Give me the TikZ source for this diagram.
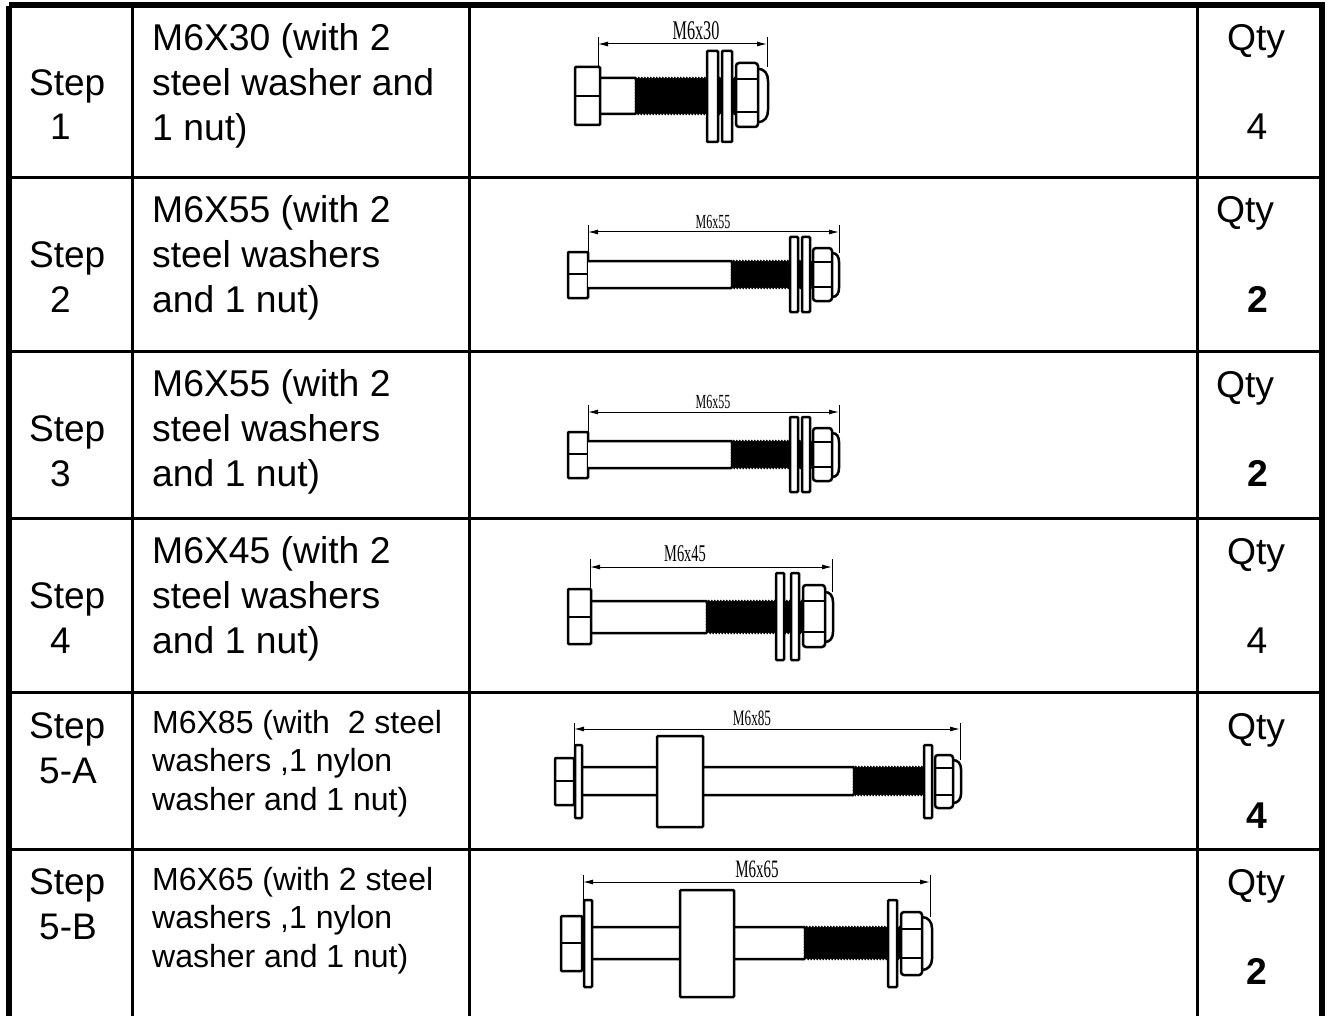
\documentclass[tikz,border=0pt]{standalone}
\usepackage{fontspec}
\setmainfont{Liberation Sans}
\newfontfamily\dimfont{Liberation Serif}
\usetikzlibrary{arrows.meta,decorations.pathmorphing}
\tikzset{
  grid/.style={black,line width=3pt},
  frame/.style={black,line width=6pt},
  stepcell/.style={anchor=base west,inner sep=0pt,align=left,font=\fontsize{37}{44.5}\selectfont},
  spec/.style={anchor=base west,inner sep=0pt,align=left,font=\fontsize{37.3}{45}\selectfont},
  specsmall/.style={anchor=base west,inner sep=0pt,align=left,font=\fontsize{32}{38.5}\selectfont},
  qty/.style={anchor=base,inner sep=0pt,font=\fontsize{37.3}{45}\selectfont},
  qtybold/.style={anchor=base,inner sep=0pt,font=\fontsize{37.3}{45}\selectfont\bfseries},
  part/.style={black,line width=2.5pt,rounded corners=1pt,fill=white},
  nut/.style={part,rounded corners=3pt},
  thread/.style={black,fill=black,line width=0.5pt,decorate,decoration={zigzag,segment length=3pt,amplitude=1pt}},
  dimline/.style={black,line width=1pt,{Latex[length=10pt,width=5pt]}-{Latex[length=10pt,width=5pt]}},
  extline/.style={black,line width=1pt},
  dimlabel/.style={transform shape,xscale=0.6,inner sep=0pt,font=\dimfont\fontsize{#1}{#1}\selectfont}
}
\begin{document}
\begin{tikzpicture}[x=1pt,y=-1pt]
    \useasboundingbox (0,0) rectangle (1329,1016);
    \fill[white] (0,0) rectangle (1329,1016);

    \draw[grid] (9,177.5) -- (1321,177.5);
    \draw[grid] (9,351) -- (1321,351);
    \draw[grid] (9,518) -- (1321,518);
    \draw[grid] (9,692) -- (1321,692);
    \draw[grid] (9,849) -- (1321,849);
    \draw[grid] (132.5,5) -- (132.5,1016);
    \draw[grid] (469.5,5) -- (469.5,1016);
    \draw[grid] (1197.5,5) -- (1197.5,1016);
    \draw[frame] (9,1016) -- (9,6);
    \draw[frame] (9,5) -- (1325,5);
    \draw[frame] (1321.5,2) -- (1321.5,1016);

    \node[stepcell] (stepone) at (29,140) {Step\\\hspace*{21pt}1};
    \node[spec] (specone) at (152,141) {M6X30 (with 2\\steel washer and\\1 nut)};
    \node[qty] (qtyone) at (1256,51) {Qty};
    \node[qty] (numone) at (1257,140) {4};

    \node[stepcell] (steptwo) at (29,312) {Step\\\hspace*{21pt}2};
    \node[spec] (spectwo) at (152,312) {M6X55 (with 2\\steel washers\\and 1 nut)};
    \node[qty] (qtytwo) at (1245,223) {Qty};
    \node[qtybold] (numtwo) at (1258,312) {2};

    \node[stepcell] (stepthree) at (29,486) {Step\\\hspace*{21pt}3};
    \node[spec] (specthree) at (152,486) {M6X55 (with 2\\steel washers\\and 1 nut)};
    \node[qty] (qtythree) at (1245,397) {Qty};
    \node[qtybold] (numthree) at (1258,486) {2};

    \node[stepcell] (stepfour) at (29,653) {Step\\\hspace*{21pt}4};
    \node[spec] (specfour) at (152,653) {M6X45 (with 2\\steel washers\\and 1 nut)};
    \node[qty] (qtyfour) at (1256,564) {Qty};
    \node[qty] (numfour) at (1257,653) {4};

    \node[stepcell] (stepfivea) at (29,783) {Step\\\hspace*{10pt}5-A};
    \node[specsmall] (specfivea) at (152,810) {M6X85 (with \ 2 steel\\washers ,1 nylon\\washer and 1 nut)};
    \node[qty] (qtyfivea) at (1256,739) {Qty};
    \node[qtybold] (numfivea) at (1257,828) {4};

    \node[stepcell] (stepfiveb) at (29,939) {Step\\\hspace*{10pt}5-B};
    \node[specsmall] (specfiveb) at (152,967) {M6X65 (with 2 steel\\washers ,1 nylon\\washer and 1 nut)};
    \node[qty] (qtyfiveb) at (1256,895) {Qty};
    \node[qtybold] (numfiveb) at (1257,984) {2};

    \draw[part] (600,78) -- (636,78) -- (636,114) -- (600,114);
    \draw[thread] (636,78) rectangle (736,114);
    \draw[part] (575,67) rectangle (600,125);
    \draw[part] (575,96) -- (600,96);
    \draw[part] (707,51) rectangle (718,142);
    \draw[part] (722,51) rectangle (732,142);
    \draw[part] (758,69) .. controls (765,69) and (768,74) .. (768,82) -- (768,109) .. controls (768,117) and (765,122) .. (758,122);
    \draw[nut] (736,63) rectangle (758,127);
    \draw[part] (736,79) -- (758,79);
    \draw[part] (736,112) -- (758,112);
    \draw[extline] (598,37) -- (598,67);
    \draw[extline] (767,37) -- (767,67);
    \draw[dimline] (598,44) -- (767,44);
    \node[dimlabel=27] (dimone) at (696,31) {M6x30};

    \draw[part] (568,252) rectangle (588,298);
    \draw[part] (568,274) -- (588,274);
    \draw[part] (588,261) -- (732,261) -- (732,288) -- (588,288);
    \draw[thread] (732,261) rectangle (812,288);
    \draw[part] (790,237) rectangle (798,312);
    \draw[part] (802,237) rectangle (810,312);
    \draw[part] (832,253) .. controls (837,253) and (839,257) .. (839,263) -- (839,287) .. controls (839,293) and (837,297) .. (832,297);
    \draw[nut] (813,248) rectangle (832,301);
    \draw[part] (813,262) -- (832,262);
    \draw[part] (813,287) -- (832,287);
    \draw[extline] (588,225) -- (588,252);
    \draw[extline] (839,225) -- (839,253);
    \draw[dimline] (588,232) -- (839,232);
    \node[dimlabel=20] (dimtwo) at (713,222) {M6x55};

    \draw[part] (568,432) rectangle (588,478);
    \draw[part] (568,454) -- (588,454);
    \draw[part] (588,441) -- (732,441) -- (732,468) -- (588,468);
    \draw[thread] (732,441) rectangle (812,468);
    \draw[part] (790,417) rectangle (798,492);
    \draw[part] (802,417) rectangle (810,492);
    \draw[part] (832,433) .. controls (837,433) and (839,437) .. (839,443) -- (839,467) .. controls (839,473) and (837,477) .. (832,477);
    \draw[nut] (813,428) rectangle (832,481);
    \draw[part] (813,442) -- (832,442);
    \draw[part] (813,467) -- (832,467);
    \draw[extline] (588,405) -- (588,432);
    \draw[extline] (839,405) -- (839,433);
    \draw[dimline] (588,412) -- (839,412);
    \node[dimlabel=20] (dimthree) at (713,402) {M6x55};

    \draw[part] (591,601) -- (707,601) -- (707,633) -- (591,633);
    \draw[thread] (707,601) rectangle (803,633);
    \draw[part] (568,589) rectangle (591,644);
    \draw[part] (568,617) -- (591,617);
    \draw[part] (776,573) rectangle (784,660);
    \draw[part] (791,573) rectangle (799,660);
    \draw[part] (825,592) .. controls (830,592) and (833,596) .. (833,603) -- (833,631) .. controls (833,638) and (830,642) .. (825,642);
    \draw[nut] (803,585) rectangle (825,647);
    \draw[part] (803,601) -- (825,601);
    \draw[part] (803,632) -- (825,632);
    \draw[extline] (590,559) -- (590,589);
    \draw[extline] (832,559) -- (832,592);
    \draw[dimline] (590,567) -- (832,567);
    \node[dimlabel=24] (dimfour) at (685,554) {M6x45};

    \draw[part] (582,767) -- (854,767) -- (854,795) -- (582,795);
    \draw[thread] (854,767) rectangle (924,795);
    \draw[part] (555,758) rectangle (574,805);
    \draw[part] (555,781) -- (574,781);
    \draw[part] (575,745) rectangle (582,818);
    \draw[part] (657,736) rectangle (703,827);
    \draw[part] (924,745) rectangle (932,818);
    \draw[part] (953,760) .. controls (958,760) and (961,764) .. (961,770) -- (961,793) .. controls (961,799) and (958,803) .. (953,803);
    \draw[nut] (935,755) rectangle (953,808);
    \draw[part] (935,768) -- (953,768);
    \draw[part] (935,795) -- (953,795);
    \draw[extline] (574,723) -- (574,745);
    \draw[extline] (960,723) -- (960,760);
    \draw[dimline] (574,729) -- (960,729);
    \node[dimlabel=22] (dimfivea) at (752,718) {M6x85};

    \draw[part] (592,927) -- (805,927) -- (805,959) -- (592,959);
    \draw[thread] (805,927) rectangle (901,959);
    \draw[part] (561,916) rectangle (582,971);
    \draw[part] (561,943) -- (582,943);
    \draw[part] (584,900) rectangle (592,987);
    \draw[part] (680,890) rectangle (734,997);
    \draw[part] (888,900) rectangle (897,987);
    \draw[part] (922,917) .. controls (928,917) and (932,922) .. (932,929) -- (932,958) .. controls (932,965) and (928,970) .. (922,970);
    \draw[nut] (901,912) rectangle (922,975);
    \draw[part] (901,929) -- (922,929);
    \draw[part] (901,958) -- (922,958);
    \draw[extline] (583,875) -- (583,900);
    \draw[extline] (930,875) -- (930,917);
    \draw[dimline] (583,882) -- (930,882);
    \node[dimlabel=25] (dimfiveb) at (757,869) {M6x65};
\end{tikzpicture}
\end{document}
